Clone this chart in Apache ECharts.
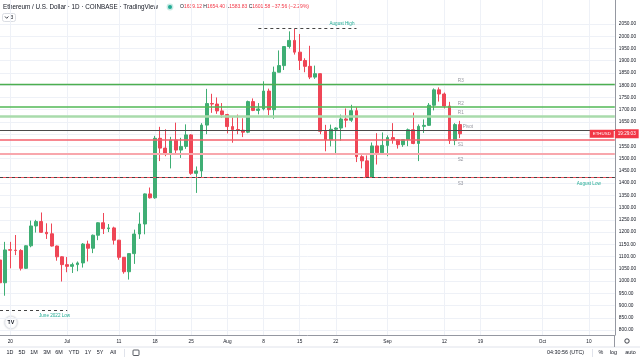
<!DOCTYPE html>
<html><head><meta charset="utf-8">
<script src="https://cdn.jsdelivr.net/npm/echarts@6/dist/echarts.min.js"></script>
<style>html,body{margin:0;padding:0;background:#fff}#c{width:640px;height:360px}</style>
</head><body><div id="c"></div>
<script>
// ---- data (ETH/USD daily, Coinbase) ----
const firstDay = '2022-06-18';
const axisDays = 120; // visible days incl. future space
const opens  = [1086,993,1128,1126,1125,1052,1144,1225,1243,1199,1193,1143,1099,1067,1060,1067,1074,1151,1134,1187,1238,1214,1217,1167,1097,1038,1112,1192,1233,1356,1340,1583,1543,1522,1576,1535,1550,1597,1440,1450,1637,1725,1723,1695,1680,1631,1619,1616,1608,1733,1697,1703,1776,1700,1853,1880,1958,1983,1935,1901,1877,1833,1847,1612,1577,1620,1625,1662,1657,1696,1508,1491,1424,1552,1524,1554,1586,1577,1557,1578,1618,1562,1632,1636,1718,1781,1764,1715,1574,1639.12];
const closes = [993,1127,1126,1125,1052,1144,1225,1243,1199,1193,1143,1099,1067,1060,1067,1074,1151,1134,1187,1238,1214,1217,1167,1097,1038,1112,1192,1233,1356,1340,1583,1543,1522,1576,1535,1550,1597,1440,1450,1637,1725,1723,1695,1680,1631,1619,1616,1608,1733,1697,1703,1776,1700,1853,1880,1958,1983,1935,1901,1877,1833,1847,1612,1577,1620,1625,1662,1657,1696,1508,1491,1424,1552,1524,1554,1586,1577,1557,1578,1618,1562,1632,1636,1718,1781,1764,1715,1574,1639,1601.58];
const lows   = [880,940,1052,1106,1043,1049,1138,1198,1197,1172,1141,1083,998,1036,1033,1040,1055,1080,1114,1167,1192,1200,1149,1087,1030,1006,1070,1172,1191,1337,1336,1490,1510,1460,1515,1503,1540,1434,1360,1423,1600,1687,1683,1667,1603,1565,1600,1588,1604,1694,1681,1697,1677,1663,1853,1862,1950,1925,1862,1853,1825,1826,1600,1530,1550,1523,1573,1628,1650,1486,1460,1423,1422,1476,1519,1510,1561,1541,1548,1551,1559,1490,1605,1634,1697,1733,1705,1560,1555,1583.83];
const highs  = [1090,1160,1160,1188,1130,1146,1247,1250,1280,1236,1235,1145,1101,1098,1075,1080,1155,1165,1190,1240,1278,1233,1222,1168,1098,1113,1210,1280,1358,1382,1593,1630,1620,1589,1647,1585,1640,1600,1468,1645,1785,1765,1750,1727,1683,1669,1680,1665,1737,1746,1727,1816,1786,1876,1942,1960,2020,2030,2009,1910,1961,1880,1848,1638,1639,1628,1680,1705,1720,1710,1514,1513,1566,1604,1607,1595,1645,1580,1580,1623,1688,1640,1660,1727,1787,1791,1770,1732,1645,1654.40];

const priceTicks = [800,850,900,950,1000,1050,1100,1150,1200,1250,1300,1350,1400,1450,1500,1550,1600,1650,1700,1750,1800,1850,1900,1950,2000,2050];
const xLabelDates = ['2022-06-20','2022-07-01','2022-07-11','2022-07-18','2022-07-25','2022-08-01','2022-08-08','2022-08-15','2022-08-22','2022-09-01','2022-09-12','2022-09-19','2022-10-01','2022-10-10'];
const xLabelTexts = ['20','Jul','11','18','25','Aug','8','15','22','Sep','12','19','Oct','10'];

const levelNames  = ['R3','R2','R1','Pivot','S1','S2','S3'];
const levelValues = [1805,1711,1674,1616,1579,1520,1422];
const levelLabelDate = '2022-09-15';

const augustHigh = 2032, augustHighFrom = '2022-08-07', augustHighTo = '2022-08-26';
const juneLow = 881, juneLowFrom = '2022-06-18', juneLowTo = '2022-07-01';
const augustLow = 1422;
const lastPrice = 1601.58;
const countdown = '19:29:03';

// ---- build ----
const categories = [];
{
  const s = new Date(firstDay + 'T00:00:00Z');
  for (let i = 0; i < axisDays; i++) {
    const d = new Date(s.getTime() + i * 86400000);
    categories.push(d.toISOString().slice(0, 10));
  }
}
const ohlc = opens.map((o, i) => [o, closes[i], lows[i], highs[i]]);

const UP = '#3fae74', DOWN = '#ef4656';
const levelStyles = {
  R3: {color: '#4caf50', width: 1.3},
  R2: {color: '#52b856', width: 1.5},
  R1: {color: '#a9dbab', width: 2.5},
  Pivot: {color: '#4a4a4a', width: 1.2},
  S1: {color: '#f4606c', width: 1.5},
  S2: {color: '#f8a7ad', width: 2},
  S3: {color: '#f0505c', width: 1}
};
const isLabelDay = (idx, v) => xLabelDates.indexOf(v) >= 0;
const FONT = 'Liberation Sans, Arial, sans-serif';

const chart = echarts.init(document.getElementById('c'), null, {renderer: 'canvas'});

// level lines: one series per level so each keeps its own colour
const levelSeries = levelNames.map((n, i) => ({
  type: 'line', name: n, silent: true, symbol: 'none', z: 1,
  data: [],
  markLine: {
    silent: true, symbol: ['none', 'none'], animation: false,
    lineStyle: {color: levelStyles[n].color, width: levelStyles[n].width, type: 'solid', opacity: 1},
    label: {show: false},
    emphasis: {disabled: true},
    data: [{yAxis: levelValues[i]}]
  }
}));

const dashed = {color: '#444', width: 1, type: [3, 3], opacity: 1};
const annotSeries = {
  type: 'line', name: 'annot', silent: true, symbol: 'none', z: 2, data: [],
  markLine: {
    silent: true, symbol: ['none', 'none'], animation: false,
    lineStyle: dashed,
    emphasis: {disabled: true},
    data: [
      {yAxis: augustLow, lineStyle: dashed,
       label: {show: true, position: 'insideEndBottom', formatter: 'August Low', color: '#22ab94', fontSize: 4.6, distance: [14, 3], fontFamily: FONT}},
      [
        {coord: [augustHighFrom, augustHigh], lineStyle: dashed,
         label: {show: true, position: 'insideEndTop', formatter: 'August High', color: '#22ab94', fontSize: 4.6, distance: [2, 2], fontFamily: FONT}},
        {coord: [augustHighTo, augustHigh]}
      ],
      [
        {coord: [juneLowFrom, juneLow], lineStyle: dashed,
         label: {show: true, position: 'insideEndBottom', formatter: 'June 2022 Low', color: '#22ab94', fontSize: 4.6, distance: [-3, 3], fontFamily: FONT}},
        {coord: [juneLowTo, juneLow]}
      ]
    ]
  }
};

const priceSeries = {
  type: 'line', name: 'price', silent: true, symbol: 'none', z: 6, data: [],
  markLine: {
    silent: true, symbol: ['none', 'none'], animation: false,
    lineStyle: {color: 'rgba(0,0,0,0)', width: 0},
    emphasis: {disabled: true},
    data: [
      {yAxis: lastPrice, lineStyle: {color: 'rgba(0,0,0,0)', width: 0},
       label: {show: true, position: 'end', formatter: countdown, backgroundColor: '#f23645', color: '#fff', fontSize: 4.6, padding: [2, 3], distance: 0, fontFamily: FONT}},
      {yAxis: lastPrice, lineStyle: {color: 'rgba(0,0,0,0)', width: 0},
       label: {show: true, position: 'insideEnd', formatter: 'ETHUSD', backgroundColor: '#f23645', color: '#fff', fontSize: 4.4, padding: [2, 3], distance: 1, fontFamily: FONT}}
    ]
  }
};

const levelLabelData = levelNames.map((n, i) => ({
  value: [levelLabelDate, levelValues[i]],
  label: {
    show: true, formatter: n,
    position: n[0] === 'S' ? 'bottom' : 'top',
    align: 'left',
    offset: [n === 'Pivot' ? 3 : -2, 1],
    distance: 2, color: '#787b86', fontSize: 4.6, fontFamily: FONT
  }
}));

const gText = (x, y, text, opt) => ({
  type: 'text', x, y, style: Object.assign({text, fontSize: 5.4, fill: '#131722', fontFamily: FONT, verticalAlign: 'middle', align: 'left'}, (opt || {}))
});

const toolbar = [['1D',10],['5D',22],['1M',34],['3M',47],['6M',59],['YTD',74],['1Y',88],['5Y',100],['All',113]];

const graphics = [
  gText(3, 7, 'Ethereum / U.S. Dollar · 1D · COINBASE · TradingView', {fontSize: 6.3}),
  {type: 'circle', shape: {cx: 170, cy: 7, r: 3.4}, style: {fill: 'rgba(34,171,148,0.25)'}},
  {type: 'circle', shape: {cx: 170, cy: 7, r: 2}, style: {fill: '#22ab94'}},
  {type: 'text', x: 180, y: 7, style: {
    text: '{k|O}{v|1639.12} {k|H}{v|1654.40} {k|L}{v|1583.83} {k|C}{v|1601.58} {v|−37.56 (−2.29%)}',
    verticalAlign: 'middle', fontFamily: FONT, fontSize: 5,
    rich: {k: {fill: '#131722', fontSize: 5, fontFamily: FONT}, v: {fill: '#f23645', fontSize: 5, fontFamily: FONT}}
  }},
  {type: 'rect', shape: {x: 2.5, y: 13.5, width: 13, height: 8, r: 2}, style: {fill: '#fff', stroke: '#d1d4dc', lineWidth: 0.8}},
  {type: 'polyline', shape: {points: [[5, 16.5], [6.7, 18.3], [8.4, 16.5]]}, style: {stroke: '#131722', lineWidth: 0.8, fill: null}},
  gText(10.5, 17.6, '3', {fontSize: 5}),
  {type: 'circle', shape: {cx: 11, cy: 322.5, r: 6.3}, style: {fill: '#fff', stroke: '#e0e3eb', lineWidth: 0.8, shadowBlur: 2, shadowColor: 'rgba(0,0,0,0.15)'}},
  gText(11, 322.7, 'TV', {fontSize: 5.4, fontWeight: 'bold', align: 'center'}),
  {type: 'line', shape: {x1: 0, y1: 347, x2: 640, y2: 347}, style: {stroke: '#e0e3eb', lineWidth: 1}},
  {type: 'line', shape: {x1: 614.5, y1: 335, x2: 614.5, y2: 347}, style: {stroke: '#9598a1', lineWidth: 1}},
  {type: 'circle', shape: {cx: 627, cy: 341, r: 2.2}, style: {fill: null, stroke: '#131722', lineWidth: 0.8}},
  {type: 'line', shape: {x1: 124.5, y1: 349, x2: 124.5, y2: 357}, style: {stroke: '#e0e3eb', lineWidth: 1}},
  {type: 'rect', shape: {x: 133, y: 350, width: 6, height: 5.5, r: 0.8}, style: {fill: null, stroke: '#131722', lineWidth: 0.7}},
  {type: 'line', shape: {x1: 592.5, y1: 349, x2: 592.5, y2: 357}, style: {stroke: '#e0e3eb', lineWidth: 1}},
  gText(547, 352.5, '04:30:56 (UTC)'),
  gText(601, 352.5, '%', {align: 'center'}),
  gText(613.5, 352.5, 'log', {align: 'center'}),
  gText(630.5, 352.5, 'auto', {align: 'center'})
];
toolbar.forEach(t => graphics.push(gText(t[1], 352.5, t[0], {align: 'center'})));

chart.setOption({
  animation: false,
  backgroundColor: '#ffffff',
  textStyle: {fontFamily: FONT},
  grid: {left: -0.4, right: 25.2, top: 0, bottom: 25, containLabel: false},
  xAxis: {
    type: 'category', data: categories, boundaryGap: false,
    axisLine: {show: true, lineStyle: {color: '#9598a1', width: 1}},
    axisTick: {show: false},
    axisLabel: {show: true, interval: isLabelDay, formatter: v => xLabelTexts[xLabelDates.indexOf(v)] || '', fontSize: 4.7, color: '#131722', margin: 4, fontFamily: FONT},
    splitLine: {show: true, interval: isLabelDay, lineStyle: {color: '#eef1f7', width: 1}}
  },
  yAxis: {
    type: 'value', position: 'right', scale: true,
    min: 779.58, max: 2148.04,
    axisLine: {show: true, onZero: false, lineStyle: {color: '#9598a1', width: 1}},
    axisTick: {show: false, customValues: priceTicks},
    axisLabel: {customValues: priceTicks, formatter: v => v.toFixed(2), fontSize: 4.8, color: '#131722', margin: 4, fontFamily: FONT},
    splitLine: {show: true, lineStyle: {color: '#eef1f7', width: 1}}
  },
  series: levelSeries.concat([
    annotSeries,
    {
      type: 'candlestick', data: ohlc, barWidth: 3.4, z: 3,
      itemStyle: {color: UP, color0: DOWN, borderColor: UP, borderColor0: DOWN, borderWidth: 1}
    },
    {type: 'scatter', data: levelLabelData, symbolSize: 0, silent: true, z: 5},
    priceSeries
  ]),
  graphic: graphics
});
</script></body></html>
